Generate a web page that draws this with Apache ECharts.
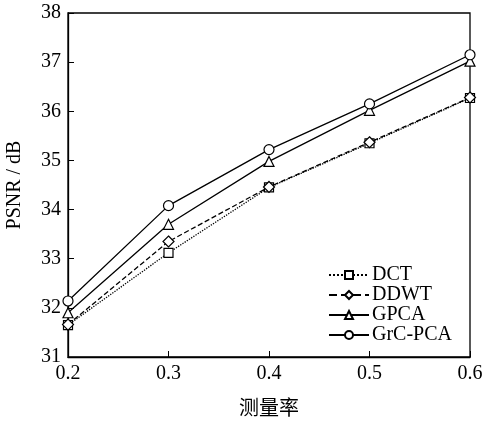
<!DOCTYPE html>
<html><head><meta charset="utf-8">
<script src="https://cdn.jsdelivr.net/npm/echarts@6/dist/echarts.min.js"></script>
<style>html,body{margin:0;padding:0;background:#fff}#c{width:482px;height:423px}</style>
</head><body><div id="c"></div>
<script>
const rates = [0.2, 0.3, 0.4, 0.5, 0.6];
const dct = [31.65, 33.12, 34.45, 35.35, 36.27];
const ddwt = [31.66, 33.35, 34.46, 35.37, 36.28];
const gpca = [31.9, 33.7, 34.98, 36.02, 37.02];
const grcpca = [32.14, 34.08, 35.22, 36.15, 37.15];
const seriesNames = ['DCT', 'DDWT', 'GPCA', 'GrC-PCA'];
const xName = '测量率';
const yName = 'PSNR / dB';

const font = 'Liberation Serif';
const pts = arr => rates.map((r, i) => [r, arr[i]]);
function mk(name, data, symbol, type, size) {
  return {
    name, type: 'line', data: pts(data), symbol, symbolSize: size,
    itemStyle: {color: '#fff', borderColor: '#000', borderWidth: 1.2},
    lineStyle: {color: '#000', width: 1.3, type: type},
    z: 3
  };
}
const chart = echarts.init(document.getElementById('c'));
chart.setOption({
  animation: false,
  backgroundColor: '#fff',
  grid: {left: 68, right: 12, top: 13, bottom: 66, outerBoundsMode: 'none', containLabel: false,
         show: true, borderColor: '#000', borderWidth: 1.3},
  xAxis: {
    type: 'value', min: 0.2, max: 0.6, interval: 0.1,
    name: xName, nameLocation: 'middle', nameGap: 40,
    nameTextStyle: {fontFamily: 'Noto Sans CJK SC', fontSize: 20, color: '#000'},
    axisLine: {lineStyle: {color: '#000', width: 1.3}},
    axisTick: {inside: true, length: 6, lineStyle: {color: '#000'}},
    axisLabel: {fontFamily: font, fontSize: 20, color: '#000', margin: 7, formatter: v => v.toFixed(1)},
    splitLine: {show: false}
  },
  yAxis: {
    type: 'value', min: 31, max: 38, interval: 1,
    name: yName, nameLocation: 'middle', nameGap: 43,
    nameTextStyle: {fontFamily: font, fontSize: 20, color: '#000'},
    axisLine: {lineStyle: {color: '#000', width: 1.3}},
    axisTick: {inside: true, length: 6, lineStyle: {color: '#000'}},
    axisLabel: {fontFamily: font, fontSize: 20, color: '#000', margin: 7},
    splitLine: {show: false}
  },
  legend: {
    orient: 'vertical', left: 323, top: 260, itemGap: 0, itemWidth: 40, itemHeight: 10,
    textStyle: {fontFamily: font, fontSize: 20, lineHeight: 20, color: '#000', padding: [0, 0, 0, -2]},
    data: seriesNames
  },
  series: [
    mk(seriesNames[0], dct, 'rect', 'dotted', 9),
    mk(seriesNames[1], ddwt, 'diamond', 'dashed', 11),
    mk(seriesNames[2], gpca, 'triangle', 'solid', 10),
    mk(seriesNames[3], grcpca, 'circle', 'solid', 10)
  ]
});
</script></body></html>
